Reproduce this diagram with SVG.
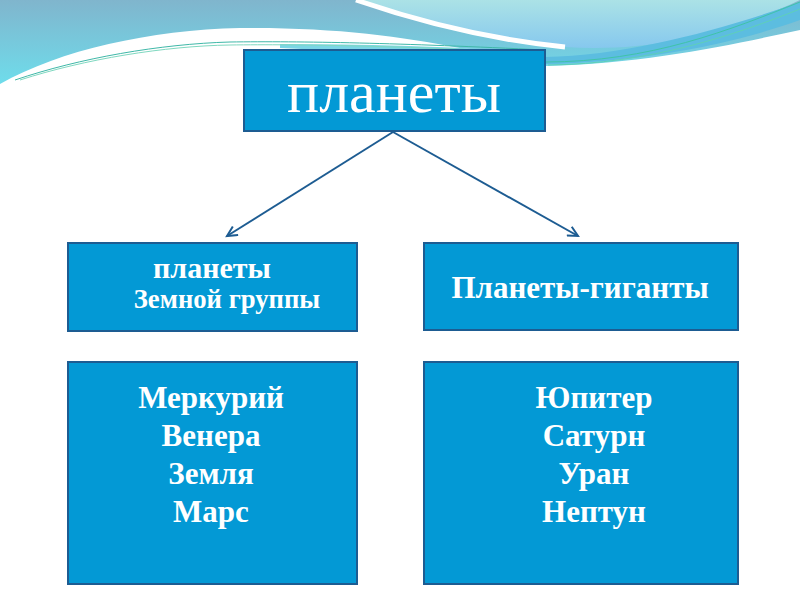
<svg xmlns="http://www.w3.org/2000/svg" width="800" height="600" viewBox="0 0 800 600">
<style>
.box{fill:#0399d5;stroke:#1d5c92;stroke-width:2}
.t{fill:#ffffff;font-family:"Liberation Serif","Times New Roman",serif;text-anchor:middle}
.b{font-weight:bold}
.conn{stroke:#1d5c92;stroke-width:2;fill:none;marker-end:url(#ah)}
</style>
<defs>
<linearGradient id="bg" x1="0" y1="0" x2="0" y2="1">
<stop offset="0" stop-color="#80b5cd"/>
<stop offset="0.9" stop-color="#6fdbea"/>
</linearGradient>
<linearGradient id="rw" x1="0" y1="0" x2="0" y2="1">
<stop offset="0" stop-color="#abe2e6"/>
<stop offset="1" stop-color="#86c8ee"/>
</linearGradient>
<marker id="ah" markerWidth="14" markerHeight="12" refX="11" refY="6" orient="auto" markerUnits="userSpaceOnUse">
<path d="M1,1 L11,6 L1,11" fill="none" stroke="#1d5c92" stroke-width="2"/>
</marker>
</defs>
<rect width="800" height="600" fill="#ffffff"/>
<g id="background">
<path d="M0,0 H800 V90 H0 Z" fill="url(#bg)"/>
<path d="M360,0 C420,22 500,40 565,47 C640,52 720,38 800,0 Z" fill="url(#rw)"/>
<path d="M356,0 C420,22 495,40 565,47" fill="none" stroke="#ffffff" stroke-width="5"/>
<path d="M545,57 C630,55 720,30 800,2 V20 C730,45 640,62 545,64 Z" fill="#5cbde0"/>
<path d="M0,84 C60,50 150,30 240,28 C330,27 400,36 460,48 L545,56 L545,66 C650,63 730,45 800,30 V600 H0 Z" fill="#ffffff"/>
<path d="M280,44 C380,44 470,48 545,52 L545,60 L280,48 Z" fill="#7bd6e6"/>
<path d="M545,62 C650,62 730,30 800,2" fill="none" stroke="#3fc4a8" stroke-width="1"/>
<path d="M548,65 C650,64 735,35 800,9" fill="none" stroke="#5fd0b8" stroke-width="1"/>
<path d="M15,80 C80,58 160,44 230,42 C300,41 400,43 545,50" fill="none" stroke="#3fb8a8" stroke-width="1"/>
<path d="M20,80 C85,59 165,46 230,45 C300,44 400,46 545,53" fill="none" stroke="#7fd8c0" stroke-width="1"/>
</g>
<g id="connectors">
<line class="conn" x1="393" y1="132" x2="227" y2="236"/>
<line class="conn" x1="393" y1="132" x2="578" y2="236"/>
</g>
<g id="planets">
<rect class="box" x="244" y="50" width="301" height="81"/>
<text class="t" x="394" y="112" font-size="60">планеты</text>
</g>
<g id="terrestrial">
<rect class="box" x="68" y="243" width="289" height="88"/>
<text class="t b"><tspan x="212" y="278" font-size="30">планеты</tspan><tspan x="227" y="308" font-size="26.7">Земной группы</tspan></text>
</g>
<g id="giants">
<rect class="box" x="424" y="243" width="314" height="87"/>
<text class="t b" x="580" y="298" font-size="31">Планеты-гиганты</text>
</g>
<g id="terrestrial-list">
<rect class="box" x="68" y="362" width="289" height="222"/>
<text class="t b" font-size="31"><tspan x="211" y="408">Меркурий</tspan><tspan x="211" y="446">Венера</tspan><tspan x="211" y="484">Земля</tspan><tspan x="211" y="522">Марс</tspan></text>
</g>
<g id="giants-list">
<rect class="box" x="424" y="362" width="314" height="222"/>
<text class="t b" font-size="31"><tspan x="594" y="408">Юпитер</tspan><tspan x="594" y="446">Сатурн</tspan><tspan x="594" y="484">Уран</tspan><tspan x="594" y="522">Нептун</tspan></text>
</g>
</svg>
